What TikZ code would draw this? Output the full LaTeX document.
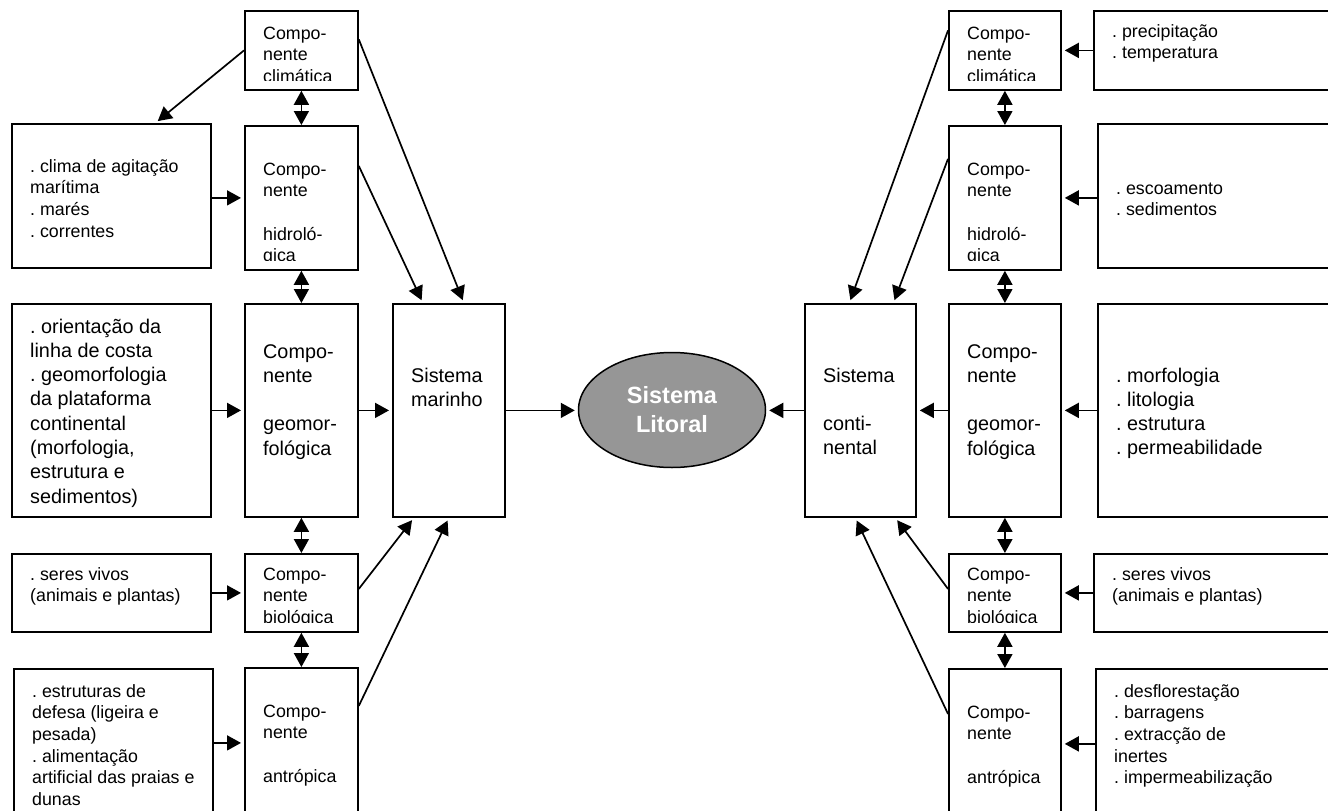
\documentclass[tikz,border=0pt]{standalone}
\usepackage{fontspec}
\setmainfont{Liberation Sans}
\usetikzlibrary{arrows.meta,shapes.geometric}
\definecolor{ltInk}{HTML}{000000}
\definecolor{ltGrey}{HTML}{969696}
\newcommand{\LTSmall}{\fontsize{17.8}{21.7}\selectfont}
\newcommand{\LTLarge}{\fontsize{19.8}{24.3}\selectfont}
\newcommand{\LTCore}{\bfseries\fontsize{23.5}{29}\selectfont}
\newcommand{\LTLines}[1]{\parbox[t]{250pt}{\raggedright\frenchspacing#1}}
\tikzset{lt/base/.style={x=1pt,y=1pt,line cap=butt,line join=miter,
  every node/.style={inner sep=0pt,text=ltInk}},
  lt/box/.style={draw=ltInk,line width=1.8pt,anchor=north west},
  lt/text/.style={anchor=base west},
  lt/arrow/.style={-{Triangle[length=14pt,width=15pt]},draw=ltInk,line width=1.7pt,shorten >=3pt},
  lt/both/.style={{Triangle[length=14pt,width=15pt]}-{Triangle[length=14pt,width=15pt]},
    draw=ltInk,line width=1.7pt},
  lt/core/.style={ellipse,draw=ltInk,fill=ltGrey,line width=1.5pt,minimum width=187pt,
    minimum height=115pt,align=center,text=white,font=\LTCore}}
\begin{document}
\begin{tikzpicture}[lt/base,y=-1pt]
  \useasboundingbox (0,0) rectangle (1328,811);
  \clip (0,0) rectangle (1328,811);
  \foreach \n/\x/\y/\w/\h in {
    infoA/11/123/199/144, infoB/11/303/199/213, infoC/11/553/199/78, infoD/13/668/199/150,
    LC/244/10/113/79, LH/244/125/113/144, LG/244/303/113/213, LB/244/553/113/78, LA/244/667/113/150,
    marinho/392/303/112/213, cont/804/303/111/213,
    RC/948/10/112/79, RH/948/125/112/144, RG/948/303/112/213, RB/948/553/112/78, RA/948/668/112/150,
    infoE/1093/10/260/79, infoF/1097/123/260/144, infoG/1097/303/260/213, infoH/1093/553/260/78,
    infoI/1095/668/260/150}{
    \node[lt/box,minimum width=\w pt,minimum height=\h pt] (\n) at (\x,\y) {};}
  \foreach \n/\dy/\f/\t in {
    LC/29/\LTSmall/{Compo-\\nente\\climática},
    infoA/49/\LTSmall/{. clima de agitação\\marítima\\. marés\\. correntes},
    LH/50/\LTSmall/{Compo-\\nente\\[21.7pt]hidroló-\\gica},
    infoB/30/\LTLarge/{. orientação da\\linha de costa\\. geomorfologia\\da plataforma\\continental\\(morfologia,\\estrutura e\\sedimentos)},
    LG/55/\LTLarge/{Compo-\\nente\\[24.3pt]geomor-\\fológica},
    marinho/79/\LTLarge/{Sistema\\marinho},
    infoC/27/\LTSmall/{. seres vivos\\(animais e plantas)},
    LB/27/\LTSmall/{Compo-\\nente\\biológica},
    infoD/29/\LTSmall/{. estruturas de\\defesa (ligeira e\\pesada)\\. alimentação\\artificial das praias e\\dunas},
    LA/50/\LTSmall/{Compo-\\nente\\[21.7pt]antrópica},
    cont/79/\LTLarge/{Sistema\\[24.3pt]conti-\\nental},
    RC/29/\LTSmall/{Compo-\\nente\\climática},
    infoE/27/\LTSmall/{. precipitação\\. temperatura},
    RH/50/\LTSmall/{Compo-\\nente\\[21.7pt]hidroló-\\gica},
    infoF/71/\LTSmall/{. escoamento\\. sedimentos},
    RG/55/\LTLarge/{Compo-\\nente\\[24.3pt]geomor-\\fológica},
    infoG/79/\LTLarge/{. morfologia\\. litologia\\. estrutura\\. permeabilidade},
    RB/27/\LTSmall/{Compo-\\nente\\biológica},
    infoH/27/\LTSmall/{. seres vivos\\(animais e plantas)},
    RA/50/\LTSmall/{Compo-\\nente\\[21.7pt]antrópica},
    infoI/29/\LTSmall/{. desflorestação\\. barragens\\. extracção de\\inertes\\. impermeabilização}}{
    \begin{scope}
      \clip (\n.north west) rectangle ([yshift=10pt]\n.south east);
      \node[lt/text,font=\f] (\n-t) at ([xshift=19pt,yshift=-\dy pt]\n.north west) {\LTLines{\t}};
    \end{scope}}
  \node[lt/core] (core) at (672,410) {Sistema\\Litoral};
  \foreach \a/\b in {infoA/LH,infoB/LG,infoC/LB,infoD/LA,LG/marinho}{
    \draw[lt/arrow] (\a.east |- \b.west) -- (\b.west);}
  \foreach \a/\b in {infoE/RC,infoF/RH,infoG/RG,infoH/RB,infoI/RA,RG/cont}{
    \draw[lt/arrow] (\a.west |- \b.east) -- (\b.east);}
  \draw[lt/arrow] (marinho.east) -- (marinho.east -| core.west);
  \draw[lt/arrow] (cont.west) -- (cont.west -| core.east);
  \foreach \a/\b in {LC/LH,LH/LG,LG/LB,LB/LA,RC/RH,RH/RG,RG/RB,RB/RA}{
    \draw[lt/both] (\a.south) -- (\a.south |- \b.north);}
  \draw[lt/arrow] (LC.west) -- ([xshift=44pt]infoA.north);
  \draw[lt/arrow] ([yshift=11pt]LC.east) -- ([xshift=15pt]marinho.north);
  \draw[lt/arrow] ([yshift=32pt]LH.east) -- ([xshift=-26pt]marinho.north);
  \draw[lt/arrow] ([yshift=4pt]LB.east) -- ([xshift=-35pt]marinho.south);
  \draw[lt/arrow] ([yshift=37pt]LA.east) -- (marinho.south);
  \draw[lt/arrow] ([yshift=20pt]RC.west) -- ([xshift=-11pt]cont.north);
  \draw[lt/arrow] ([yshift=39pt]RH.west) -- ([xshift=33pt]cont.north);
  \draw[lt/arrow] ([yshift=4pt]RB.west) -- ([xshift=35pt]cont.south);
  \draw[lt/arrow] ([yshift=30pt]RA.west) -- ([xshift=-5pt]cont.south);
\end{tikzpicture}
\end{document}
